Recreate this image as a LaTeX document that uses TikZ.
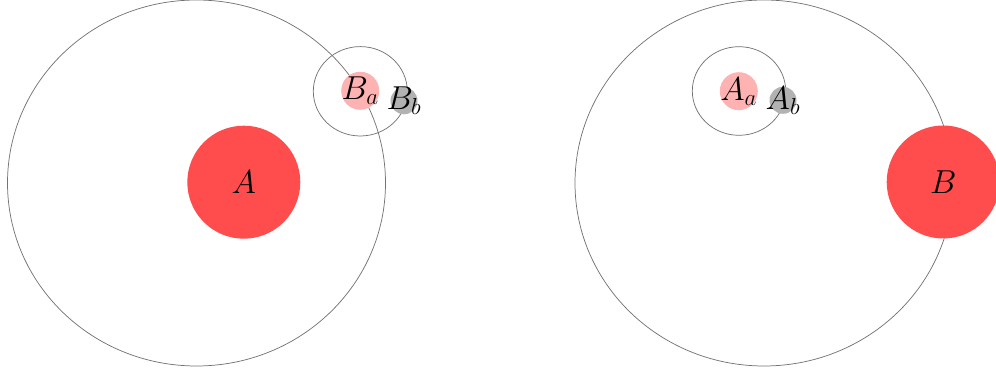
\documentclass[tikz,border=0pt]{standalone}
\begin{document}
\begin{tikzpicture}[x=0.75pt,y=-0.75pt,
  orbit/.style={draw=black!55, line width=0.55pt},
  txt/.style={font=\fontsize{24.7}{30}\selectfont, inner sep=0pt},
  body/.style={circle, inner sep=0pt},
  big/.style={body, fill=red!70, minimum size=84.75pt},
  moon/.style={body, fill=red!30, minimum size=28.5pt},
  tiny/.style={body, fill=black!30, minimum size=20.25pt}]
\useasboundingbox (0,0) rectangle (996,373);
\clip (0,0) rectangle (996,373);
% left system
\draw[orbit] (196.5,183) ellipse [x radius=189, y radius=183];
\draw[orbit] (360.3,91.3) ellipse [x radius=47, y radius=44.7];
\node[big, label={[txt]center:$A$}] (A) at (243.8,182.2) {};
\node[moon, label={[txt]center:$B_a$}] (Ba) at (360.2,90.8) {};
\node[tiny, label={[txt]center:$B_b$}] (Bb) at (404,100.8) {};
% right system
\draw[orbit] (764,183) ellipse [x radius=189, y radius=183];
\draw[orbit] (739,91) ellipse [x radius=46.7, y radius=44.3];
\node[big, label={[txt]center:$B$}] (B) at (943.2,182) {};
\node[moon, label={[txt]center:$A_a$}] (Aa) at (738.8,91.2) {};
\node[tiny, label={[txt]center:$A_b$}] (Ab) at (783,100.3) {};
\end{tikzpicture}
\end{document}
